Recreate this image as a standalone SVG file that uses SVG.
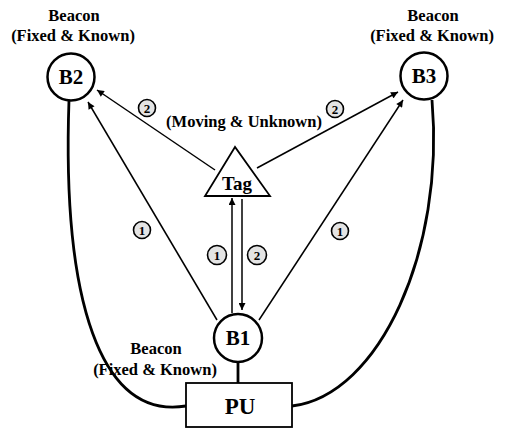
<svg xmlns="http://www.w3.org/2000/svg" width="508" height="428" viewBox="0 0 508 428">
<style>
text{font-family:'Liberation Serif','DejaVu Serif',serif;font-weight:bold;fill:#000;text-anchor:middle}
.lbl{font-size:16.5px}
.node{fill:#fff;stroke:#000;stroke-width:2.5}
.nt{font-size:21px}
.arr{stroke:#000;stroke-width:1.5;fill:none;marker-end:url(#ah)}
.wire{stroke:#000;stroke-width:2.8;fill:none}
.num circle{fill:#e4e4e4;stroke:#000;stroke-width:1.6}
.num text{font-size:13px}
</style>
<defs>
<marker id="ah" viewBox="0 0 10 10" refX="10" refY="5" markerWidth="8" markerHeight="7" markerUnits="userSpaceOnUse" orient="auto">
<path d="M0,0 L10,5 L0,10 z" fill="#000"/>
</marker>
</defs>
<rect width="508" height="428" fill="#fff"/>
<g id="connectors">
<path class="wire" d="M69,100 C62,300 100,420 186,406"/>
<path class="wire" d="M432,100 C445,250 380,395 292,406"/>
<line class="wire" x1="238" y1="362" x2="238" y2="384" stroke-width="2.5"/>
<line class="arr" x1="217" y1="320" x2="88" y2="102"/>
<line class="arr" x1="259" y1="320" x2="403" y2="100"/>
<line class="arr" x1="215" y1="170" x2="97" y2="90"/>
<line class="arr" x1="257" y1="168" x2="398" y2="92"/>
<line class="arr" x1="232" y1="313" x2="232" y2="198"/>
<line class="arr" x1="242" y1="199" x2="242" y2="310"/>
</g>
<g id="B2">
<circle class="node" cx="71" cy="77" r="23.5"/>
<text class="nt" x="71" y="84" font-family="Liberation Serif, serif">B2</text>
<text class="lbl" x="74" y="21" font-family="Liberation Serif, serif">Beacon</text>
<text class="lbl" x="73" y="41" font-family="Liberation Serif, serif">(Fixed &amp; Known)</text>
</g>
<g id="B3">
<circle class="node" cx="424" cy="76" r="23.5"/>
<text class="nt" x="424" y="83" font-family="Liberation Serif, serif">B3</text>
<text class="lbl" x="433" y="21" font-family="Liberation Serif, serif">Beacon</text>
<text class="lbl" x="432" y="41" font-family="Liberation Serif, serif">(Fixed &amp; Known)</text>
</g>
<g id="Tag">
<polygon points="235,147 205,196 270,196" fill="#fff" stroke="#000" stroke-width="1.8"/>
<text x="237" y="190" font-size="19" font-family="Liberation Serif, serif">Tag</text>
<text x="244" y="127" font-size="16.5" font-family="Liberation Serif, serif">(Moving &amp; Unknown)</text>
</g>
<g id="B1">
<circle class="node" cx="238" cy="338" r="24"/>
<text class="nt" x="238" y="345" font-family="Liberation Serif, serif">B1</text>
<text class="lbl" x="156" y="354" font-family="Liberation Serif, serif">Beacon</text>
<text class="lbl" x="155" y="375" font-family="Liberation Serif, serif">(Fixed &amp; Known)</text>
</g>
<g id="PU">
<rect x="186" y="383" width="106" height="44" fill="#fff" stroke="#000" stroke-width="1.8"/>
<text x="240" y="414" font-size="23" font-family="Liberation Serif, serif">PU</text>
</g>
<g id="numbers" font-family="Liberation Serif, serif">
<g class="num"><circle cx="147" cy="108" r="8.5"/><text x="147" y="112.5">2</text></g>
<g class="num"><circle cx="335" cy="109" r="8.5"/><text x="335" y="113.5">2</text></g>
<g class="num"><circle cx="142" cy="230" r="8.5"/><text x="142" y="234.5">1</text></g>
<g class="num"><circle cx="340" cy="231" r="8.5"/><text x="340" y="235.5">1</text></g>
<g class="num"><circle cx="217" cy="255" r="9.5"/><text x="217" y="259.5">1</text></g>
<g class="num"><circle cx="257" cy="255" r="9.5"/><text x="257" y="259.5">2</text></g>
</g>
</svg>
